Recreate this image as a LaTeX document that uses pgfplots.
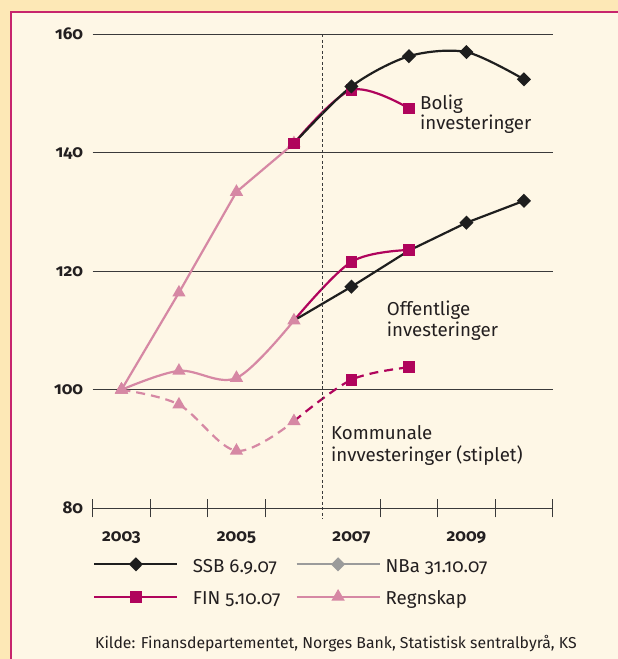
\documentclass[border=0pt]{standalone}
\usepackage{fontspec}
\setmainfont{Fira Sans}[Numbers=OldStyle]
\usepackage{pgfplots}
\pgfplotsset{compat=1.18}
\definecolor{outerbg}{HTML}{FDE8B6}
\definecolor{panelbg}{HTML}{FEF7E6}
\definecolor{borderc}{HTML}{C7256D}
\definecolor{ssb}{HTML}{1E1E1E}
\definecolor{nba}{HTML}{9B9B9B}
\definecolor{fin}{HTML}{B0045C}
\definecolor{regn}{HTML}{D688A4}
\definecolor{txt}{HTML}{231F20}
\definecolor{gridc}{HTML}{3A3A3A}
\newcommand\annfont{\fontsize{18.7}{21}\selectfont}
\newcommand\srcfont{\fontsize{15.8}{19}\selectfont}
\begin{document}
\begin{tikzpicture}[x=1pt,y=1pt]
\useasboundingbox (0,0) rectangle (618,659);
\fill[outerbg] (0,0) rectangle (618,659);
\fill[panelbg] (11,0) rectangle (618,647);
\draw[borderc, line width=1.5pt] (11,0) -- (11,647) -- (618,647);
\begin{axis}[
  at={(92.7pt,150.7pt)}, anchor=south west,
  scale only axis, width=460pt, height=474pt,
  xmin=2002.5, xmax=2010.5, ymin=80, ymax=160,
  clip=false,
  axis lines*=left,
  y axis line style={draw=none},
  x axis line style={gridc, line width=1pt},
  xtick={2002.5,2003.5,2004.5,2005.5,2007.5,2008.5,2009.5,2010.5},
  xticklabels={},
  xtick align=center,
  major tick length=18pt,
  xtick style={gridc, line width=1pt},
  extra x ticks={2003,2005,2007,2009},
  extra x tick labels={2003,2005,2007,2009},
  extra x tick style={major tick length=0pt, xticklabel style={anchor=base, yshift=-32.7pt}},
  ytick={80,100,120,140,160},
  yticklabels={80,100,120,140,160},
  ytick style={draw=none},
  yticklabel style={anchor=base east, inner sep=0pt, xshift=-9.4pt, yshift=-5pt},
  ymajorgrids, grid style={gridc, line width=1pt},
  ticklabel style={font=\bfseries\fontsize{17}{20}\selectfont, text=txt},
  every axis plot/.append style={line width=2.2pt},
  legend columns=2,
  legend style={at={(0.0013,-0.1055)}, anchor=north west, draw=none, fill=none,
    inner sep=0pt, outer sep=0pt, font=\annfont, text=txt,
    cells={anchor=base west},
    nodes={inner sep=0pt, text height=14pt, text depth=4pt},
    /tikz/column 1/.style={column sep=14.5pt},
    /tikz/column 2/.style={column sep=15pt},
    /tikz/column 3/.style={column sep=5pt},
    row sep=14.4pt},
  legend image code/.code={\draw[mark repeat=2, mark phase=2, #1, yshift=8pt] plot coordinates {(0pt,0pt) (41.5pt,0pt) (83pt,0pt)};},
]
% Regnskap
\addplot[regn, mark=triangle*, mark size=5.5pt, forget plot] coordinates {(2003,100) (2004,116.4) (2005,133.4) (2006,141.6)};
\addplot[regn, smooth, tension=0.55, mark=triangle*, mark size=5.5pt, forget plot] coordinates {(2003,100) (2004,103.2) (2005,102.0) (2006,111.7)};
\addplot[regn, smooth, tension=0.55, dash pattern=on 9pt off 6pt, mark=triangle*, mark size=5.5pt, mark options={solid}, forget plot] coordinates {(2003,100) (2004,97.5) (2005,89.7) (2006,94.7)};
% FIN
\addplot[fin, smooth, tension=0.55, mark=square*, mark size=4.7pt, forget plot] coordinates {(2006,141.6) (2007,150.6) (2008,147.5)};
\addplot[fin, smooth, tension=0.55, mark=square*, mark size=4.7pt, mark indices={2,3}, forget plot] coordinates {(2006,111.7) (2007,121.6) (2008,123.6)};
\addplot[fin, smooth, tension=0.55, dash pattern=on 9pt off 6pt, mark=square*, mark size=4.7pt, mark options={solid}, mark indices={2,3}, forget plot] coordinates {(2006,94.7) (2007,101.7) (2008,103.8)};
% SSB
\addplot[ssb, smooth, tension=0.5, mark=diamond*, mark size=5.5pt, mark options={xscale=1.33}, mark indices={2,3,4,5}, forget plot] coordinates {(2006,141.6) (2007,151.2) (2008,156.3) (2009,157.0) (2010,152.4)};
\addplot[ssb, mark=diamond*, mark size=5.5pt, mark options={xscale=1.33}, mark indices={2,4,5}, forget plot] coordinates {(2006,111.7) (2007,117.4) (2008,123.5) (2009,128.2) (2010,131.9)};
% legend
\addlegendimage{ssb, line width=2.2pt, mark=diamond*, mark size=5.5pt, mark options={xscale=1.33}}
\addlegendentry{SSB 6.9.07}
\addlegendimage{nba, line width=2.2pt, mark=diamond*, mark size=5.5pt, mark options={xscale=1.33}}
\addlegendentry{NBa 31.10.07}
\addlegendimage{fin, line width=2.2pt, mark=square*, mark size=4.7pt}
\addlegendentry{FIN 5.10.07}
\addlegendimage{regn, line width=2.2pt, mark=triangle*, mark size=5.5pt}
\addlegendentry{Regnskap}
\draw[gridc, line width=0.9pt, dash pattern=on 3pt off 2.5pt] (axis cs:2006.5,160) -- (axis cs:2006.5,78.3);
\end{axis}
\begin{scope}[every node/.style={inner sep=0pt, anchor=base west, text=txt, font=\annfont}]
\node at (420,549.7) {Bolig};
\node at (420,529) {investeringer};
\node at (386.7,343) {Offentlige};
\node at (386.7,322.3) {investeringer};
\node at (331,219) {Kommunale};
\node at (331,197.3) {invvesteringer (stiplet)};
\node[font=\srcfont] at (95,10.7) {Kilde: Finansdepartementet, Norges Bank, Statistisk sentralbyrå, KS};
\end{scope}
\end{tikzpicture}
\end{document}
